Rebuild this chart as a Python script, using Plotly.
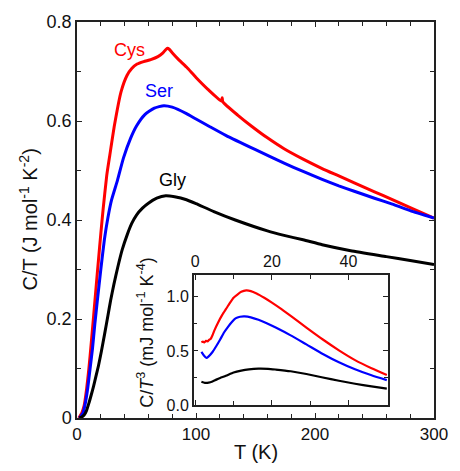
import plotly.graph_objects as go

# ---------------- main panel data: C/T (J mol^-1 K^-2) vs T (K) ----------------
T_cys = [1.5, 4, 6, 8, 10, 12, 14, 16, 18, 20, 22, 25, 27.5, 31.5, 37, 42, 46, 50.5, 56, 62,
         68, 72, 74.5, 76, 77.5, 80, 85, 92, 100, 110, 121.5, 122, 122.5, 135, 147, 160, 174,
         190, 206, 220, 233, 250, 265, 280, 300]
C_cys = [0, 0.01, 0.025, 0.057, 0.1, 0.152, 0.207, 0.263, 0.318, 0.372, 0.423, 0.49, 0.53,
         0.592, 0.659, 0.692, 0.706, 0.715, 0.72, 0.724, 0.73, 0.737, 0.744, 0.747, 0.745,
         0.738, 0.725, 0.709, 0.688, 0.664, 0.640, 0.647, 0.639, 0.612, 0.589, 0.566, 0.544,
         0.523, 0.504, 0.489, 0.475, 0.457, 0.441, 0.425, 0.404]

T_ser = [2, 5, 7, 9, 11, 13, 15, 17, 20, 23, 26, 29, 34, 39, 45, 50, 57, 65, 73, 80, 92, 100,
         112, 125, 150, 174, 190, 206, 220, 233, 250, 265, 280, 300]
C_ser = [0, 0.01, 0.03, 0.06, 0.1, 0.14, 0.19, 0.235, 0.3, 0.36, 0.405, 0.44, 0.48, 0.525,
         0.565, 0.59, 0.613, 0.626, 0.631, 0.628, 0.615, 0.604, 0.588, 0.571, 0.542, 0.515,
         0.498, 0.482, 0.469, 0.458, 0.444, 0.432, 0.419, 0.404]

T_gly = [2, 4, 6, 8, 10, 12, 14, 16, 18, 20.5, 23.3, 26, 28.2, 31, 34.2, 38, 42.3, 46, 50, 55,
         60, 67, 74.6, 82, 92, 100, 115, 133, 160, 174, 190, 206, 230, 260, 280, 300]
C_gly = [0, 0.002, 0.006, 0.015, 0.03, 0.047, 0.065, 0.085, 0.105, 0.135, 0.171, 0.207, 0.237,
         0.27, 0.304, 0.34, 0.371, 0.393, 0.41, 0.424, 0.434, 0.444, 0.449, 0.447, 0.441,
         0.433, 0.417, 0.4, 0.378, 0.369, 0.36, 0.35, 0.338, 0.326, 0.318, 0.31]

# ---------------- inset data: C/T^3 (mJ mol^-1 K^-4) vs T (K) ----------------
Ti_cys = [1.6, 2.0, 2.4, 2.8, 3.2, 3.6, 4.0, 4.5, 5, 6, 7, 8, 9, 10, 11, 12, 13.3, 14.5, 16,
          18, 20, 22.5, 25, 29, 33.3, 37.5, 41.7, 46, 50]
Ci_cys = [0.58, 0.585, 0.578, 0.593, 0.588, 0.602, 0.61, 0.645, 0.69, 0.765, 0.83, 0.885,
          0.94, 0.99, 1.02, 1.045, 1.058, 1.052, 1.03, 0.99, 0.945, 0.885, 0.82, 0.715, 0.605,
          0.505, 0.415, 0.34, 0.278]

Ti_ser = [1.6, 2.2, 2.9, 3.5, 4.5, 5.5, 6.5, 7.5, 8.5, 9.5, 10.5, 11.7, 12.9, 14.5, 16.5,
          18.5, 21, 24.9, 29, 33.3, 37.5, 41.7, 46, 50]
Ci_ser = [0.49, 0.46, 0.435, 0.45, 0.49, 0.545, 0.605, 0.67, 0.72, 0.765, 0.8, 0.815, 0.818,
          0.81, 0.787, 0.758, 0.715, 0.643, 0.56, 0.472, 0.395, 0.33, 0.275, 0.23]

Ti_gly = [1.6, 2.5, 3.5, 4.5, 5.5, 6.5, 8, 10, 12, 14, 16.5, 19, 21, 24.9, 29, 33.3, 37.5,
          41.7, 46, 50]
Ci_gly = [0.215, 0.205, 0.207, 0.218, 0.235, 0.25, 0.27, 0.3, 0.318, 0.33, 0.337, 0.335,
          0.328, 0.312, 0.287, 0.255, 0.225, 0.197, 0.172, 0.152]

labels = ["Cys", "Ser", "Gly"]
colors = ["#ff0000", "#0000ff", "#000000"]
label_T = [44.2, 68.6, 80.0]
label_C = [0.744, 0.660, 0.481]

FONT = "Liberation Sans, Arial, Helvetica, sans-serif"
AX = "#222222"

fig = go.Figure()
for T, C, col in zip([T_cys, T_ser, T_gly], [C_cys, C_ser, C_gly], colors):
    fig.add_trace(go.Scatter(x=T, y=C, mode="lines", xaxis="x", yaxis="y",
                             line=dict(color=col, width=3, shape="spline", smoothing=0.5),
                             hoverinfo="skip"))
for T, C, col in zip([Ti_cys, Ti_ser, Ti_gly], [Ci_cys, Ci_ser, Ci_gly], colors):
    fig.add_trace(go.Scatter(x=T, y=C, mode="lines", xaxis="x2", yaxis="y2",
                             line=dict(color=col, width=2.2, shape="spline", smoothing=0.5),
                             hoverinfo="skip"))

common = dict(showline=True, linecolor=AX, linewidth=1.5, mirror="allticks",
              ticks="inside", ticklen=5, tickwidth=1.2, tickcolor=AX,
              showgrid=False, zeroline=False)

fig.update_layout(
    width=460, height=471,
    margin=dict(l=77, r=15, t=19, b=53),
    paper_bgcolor="white", plot_bgcolor="white",
    showlegend=False,
    font=dict(family=FONT, color="#111111"),
    xaxis=dict(domain=[0, 1], range=[0, 300], anchor="y",
               tickvals=[0, 100, 200, 300], tickfont=dict(size=17),
               minor=dict(tick0=0, dtick=20, ticks="inside", ticklen=4, tickwidth=1.2, tickcolor=AX),
               **common),
    yaxis=dict(domain=[0, 1], range=[0, 0.8], anchor="x",
               tickvals=[0, 0.2, 0.4, 0.6, 0.8], ticktext=["0", "0.2", "0.4", "0.6", "0.8"],
               tickfont=dict(size=18),
               minor=dict(tick0=0, dtick=0.1, ticks="inside", ticklen=4, tickwidth=1.2, tickcolor=AX),
               **common),
    xaxis2=dict(domain=[0.327, 0.870], range=[-0.4, 50.2], anchor="y2", side="top",
                tickvals=[0, 20, 40], tickfont=dict(size=16),
                minor=dict(tick0=0, dtick=10, ticks="inside", ticklen=4, tickwidth=1.2, tickcolor=AX),
                **common),
    yaxis2=dict(domain=[0.0326, 0.361], range=[0, 1.2], anchor="x2",
                tickvals=[0, 0.5, 1.0], ticktext=["0.0", "0.5", "1.0"], tickfont=dict(size=16),
                minor=dict(tick0=0, dtick=0.25, ticks="inside", ticklen=4, tickwidth=1.2, tickcolor=AX),
                **common),
)

annotations = [
    dict(text="C/T (J mol<sup>-1</sup> K<sup>-2</sup>)", xref="paper", yref="paper",
         x=-0.1386, y=0.5, textangle=-90, showarrow=False, font=dict(size=20),
         xanchor="center", yanchor="middle"),
    dict(text="T (K)", xref="paper", yref="paper", x=0.5, y=-0.0852, showarrow=False,
         font=dict(size=20), xanchor="center", yanchor="middle"),
    dict(text="C/<i>T</i><sup>3</sup> (mJ mol<sup>-1</sup> K<sup>-4</sup>)", xref="paper",
         yref="paper", x=0.1916, y=0.2163, textangle=-90, showarrow=False,
         font=dict(size=18), xanchor="center", yanchor="middle"),
]
for lab, col, tx, cy in zip(labels, colors, label_T, label_C):
    annotations.append(dict(text=lab, x=tx, y=cy, xref="x", yref="y", showarrow=False,
                            font=dict(size=18, color=col), xanchor="center", yanchor="middle"))
fig.update_layout(annotations=annotations)

fig.write_html("out.html")
